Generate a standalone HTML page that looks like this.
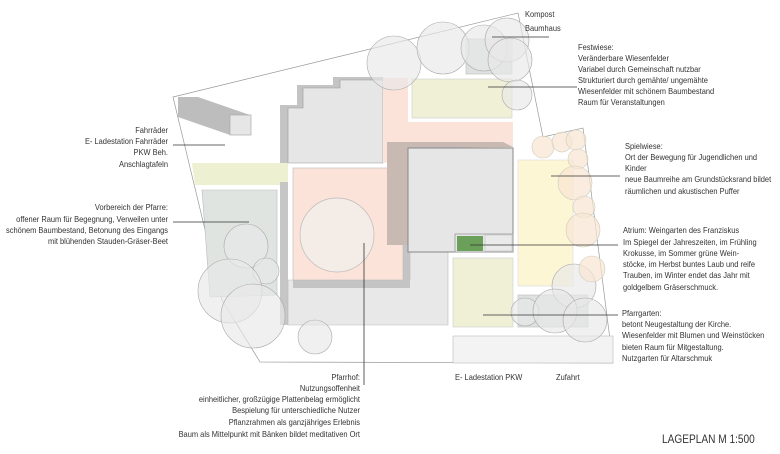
<!DOCTYPE html>
<html><head><meta charset="utf-8"><style>
html,body{margin:0;padding:0;background:#fff}
svg{display:block}
text{font-family:"Liberation Sans Narrow","Liberation Sans",sans-serif;font-size:8.6px;fill:#333}
</style></head><body>
<svg width="780" height="454" viewBox="0 0 780 454" xmlns="http://www.w3.org/2000/svg">
<polygon points="173,97 518,13 543,137 583,128 613,363 260,362 222,300" fill="none" stroke="#999" stroke-width="0.7"/>
<polygon points="178,97 198,97 250,115 250,135 230,135 178,117" fill="#bdbdbd"/>
<rect x="230" y="115" width="21" height="20" fill="#e6e6e6" stroke="#aaa" stroke-width="0.7"/>
<polygon points="192,163 288,163 288,185 195,185" fill="#eef0d2"/>
<polygon points="202,190 277,190 277,295 210,297" fill="#dfe4e1" stroke="#bbb" stroke-width="0.6"/>
<polygon points="280,105 297,105 297,85 333,85 333,77 383,77 383,163 280,163" fill="#c4c4c4"/>
<polygon points="288,108 303,108 303,88 340,88 340,80 383,80 383,163 288,163" fill="#e6e6e6" stroke="#999" stroke-width="0.6"/>
<rect x="280" y="182" width="8" height="143" fill="#c6c6c6"/>
<polygon points="383,78 408,78 408,122 513,122 513,147 383,163" fill="#fbe3d9"/>
<rect x="412" y="79" width="100" height="39" fill="#eff0d5" stroke="#ccc" stroke-width="0.6"/>
<rect x="466" y="39" width="46" height="35" fill="#dde2de" stroke="#bbb" stroke-width="0.6"/>
<polygon points="288,280 410,280 410,252 448,252 448,325 288,325" fill="#e8e8e8" stroke="#bbb" stroke-width="0.6"/>
<rect x="293" y="168" width="117" height="120" fill="#c4c4c4"/>
<rect x="293" y="168" width="110" height="112" fill="#fbe3d9" stroke="#bbb" stroke-width="0.6"/>
<circle cx="337" cy="235" r="37" fill="#f4ece6" stroke="#bbb" stroke-width="0.7"/>
<polygon points="387,142 503,142 513,147 408,148 408,245 387,245" fill="#c8b9b3"/>
<rect x="408" y="148" width="105" height="104" fill="#e6e6e6" stroke="#888" stroke-width="1"/>
<rect x="455" y="234" width="58" height="18" fill="#e6e6e6" stroke="#999" stroke-width="0.8"/>
<rect x="457" y="236" width="26" height="15" fill="#6aa05a"/>
<rect x="485" y="235" width="27" height="16" fill="#eaeaea" stroke="#bbb" stroke-width="0.5"/>
<rect x="453" y="258" width="60" height="69" fill="#eff0d5" stroke="#ccc" stroke-width="0.6"/>
<rect x="518" y="160" width="55" height="126" fill="#fdf6d5" stroke="#ddd" stroke-width="0.6"/>
<rect x="518" y="295" width="70" height="32" fill="#dde2de" stroke="#bbb" stroke-width="0.6"/>
<rect x="453" y="336" width="160" height="27" fill="#f3f3f3" stroke="#bbb" stroke-width="0.6"/>
<g fill="#e8e8e8" fill-opacity="0.65" stroke="#aaa" stroke-width="0.6">
<circle cx="394" cy="63" r="27"/><circle cx="443" cy="48" r="26"/><circle cx="484" cy="48" r="23"/>
<circle cx="507" cy="40" r="22"/><circle cx="510" cy="60" r="22"/><circle cx="517" cy="95" r="15"/>
<circle cx="246" cy="246" r="22"/><circle cx="266" cy="271" r="13"/><circle cx="230" cy="291" r="32"/>
<circle cx="253" cy="316" r="32"/><circle cx="315" cy="337" r="17"/>
<circle cx="574" cy="286" r="22"/><circle cx="525" cy="312" r="14"/><circle cx="555" cy="311" r="22"/><circle cx="585" cy="320" r="22"/>
</g>
<g fill="#f8e6d2" fill-opacity="0.7" stroke="#ccb" stroke-width="0.6">
<circle cx="543" cy="147" r="11"/><circle cx="562" cy="142" r="10"/><circle cx="576" cy="140" r="10"/>
<circle cx="578" cy="159" r="10"/><circle cx="575" cy="183" r="17"/><circle cx="584" cy="207" r="11"/>
<circle cx="583" cy="230" r="17"/><circle cx="592" cy="269" r="13"/>
</g>
<g stroke="#333" stroke-width="0.8">
<line x1="492" y1="37" x2="549" y2="37"/>
<line x1="488" y1="87" x2="577" y2="87"/>
<line x1="551" y1="176" x2="620" y2="176"/>
<line x1="470" y1="245" x2="618" y2="245"/>
<line x1="483" y1="315" x2="618" y2="315"/>
<line x1="173" y1="145" x2="225" y2="145"/>
<line x1="173" y1="222" x2="249" y2="222"/>
<line x1="364" y1="243" x2="364" y2="385"/>
</g>
<g transform="translate(525,0) scale(0.87,1)">
<text x="0" y="17">Kompost</text>
<text x="0" y="31">Baumhaus</text>
</g>
<g transform="translate(578,0) scale(0.87,1)">
<text x="0" y="50">Festwiese:</text>
<text x="0" y="61">Veränderbare Wiesenfelder</text>
<text x="0" y="72">Variabel durch Gemeinschaft nutzbar</text>
<text x="0" y="83">Strukturiert durch gemähte/ ungemähte</text>
<text x="0" y="94">Wiesenfelder mit schönem Baumbestand</text>
<text x="0" y="105">Raum für Veranstaltungen</text>
</g>
<g transform="translate(625,0) scale(0.87,1)">
<text x="0" y="149">Spielwiese:</text>
<text x="0" y="160">Ort der Bewegung für Jugendlichen und</text>
<text x="0" y="171">Kinder</text>
<text x="0" y="182">neue Baumreihe am Grundstücksrand bildet</text>
<text x="0" y="194">räumlichen und akustischen Puffer</text>
</g>
<g transform="translate(623,0) scale(0.87,1)">
<text x="0" y="233">Atrium: Weingarten des Franziskus</text>
<text x="0" y="245">Im Spiegel der Jahreszeiten, im Frühling</text>
<text x="0" y="256">Krokusse, im Sommer grüne Wein-</text>
<text x="0" y="267">stöcke, im Herbst buntes Laub und reife</text>
<text x="0" y="278">Trauben, im Winter endet das Jahr mit</text>
<text x="0" y="290">goldgelbem Gräserschmuck.</text>
</g>
<g transform="translate(622,0) scale(0.87,1)">
<text x="0" y="316">Pfarrgarten:</text>
<text x="0" y="327">betont Neugestaltung der Kirche.</text>
<text x="0" y="338">Wiesenfelder mit Blumen und Weinstöcken</text>
<text x="0" y="350">bieten Raum für Mitgestaltung.</text>
<text x="0" y="361">Nutzgarten für Altarschmuk</text>
</g>
<g text-anchor="end" transform="translate(168,0) scale(0.87,1)">
<text x="0" y="133">Fahrräder</text>
<text x="0" y="144">E- Ladestation Fahrräder</text>
<text x="0" y="155">PKW Beh.</text>
<text x="0" y="167">Anschlagtafeln</text>
<text x="0" y="210">Vorbereich der Pfarre:</text>
<text x="0" y="222">offener Raum für Begegnung, Verweilen unter</text>
<text x="0" y="233">schönem Baumbestand, Betonung des Eingangs</text>
<text x="0" y="244">mit blühenden Stauden-Gräser-Beet</text>
</g>
<g text-anchor="end" transform="translate(360,0) scale(0.87,1)">
<text x="0" y="380">Pfarrhof:</text>
<text x="0" y="391">Nutzungsoffenheit</text>
<text x="0" y="402">einheitlicher, großzügige Plattenbelag ermöglicht</text>
<text x="0" y="413">Bespielung für unterschiedliche Nutzer</text>
<text x="0" y="425">Pflanzrahmen als ganzjähriges Erlebnis</text>
<text x="0" y="437">Baum als Mittelpunkt mit Bänken bildet meditativen Ort</text>
</g>
<g transform="translate(455,0) scale(0.87,1)"><text x="0" y="380">E- Ladestation PKW</text></g>
<g transform="translate(556,0) scale(0.87,1)"><text x="0" y="380">Zufahrt</text></g>
<g transform="translate(662,0) scale(0.88,1)"><text x="0" y="443" style="font-size:11.5px">LAGEPLAN M 1:500</text></g>
</svg>
</body></html>
